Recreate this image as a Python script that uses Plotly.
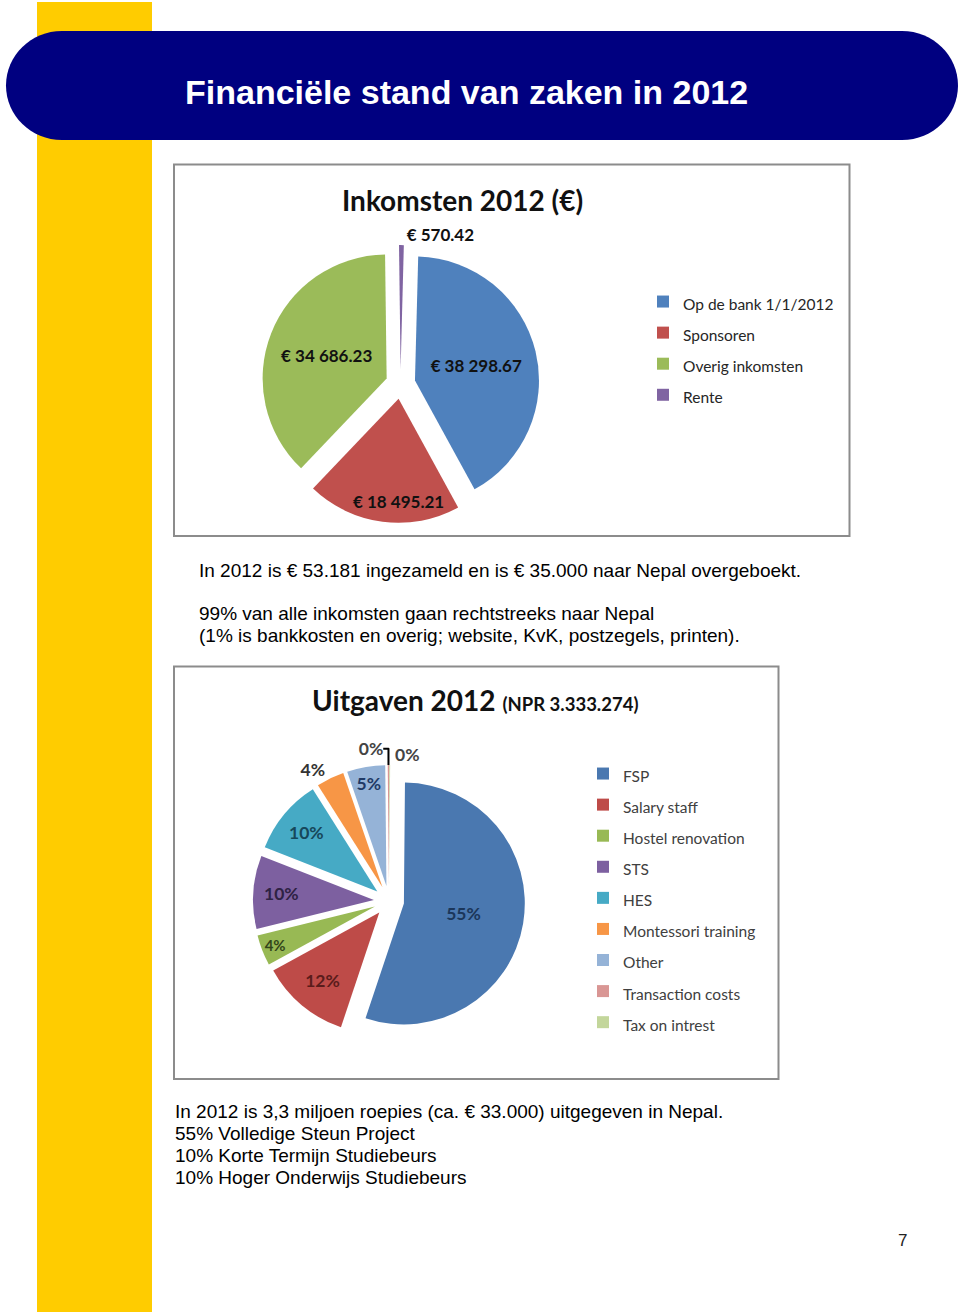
import plotly.graph_objects as go

W, H = 960, 1312
OX, OY = 0, 0   # body margin is removed in the page (see write_html below)

# ---------------- data ----------------
page_title = "Financiële stand van zaken in 2012"

inc_title = "Inkomsten 2012 (€)"
inc_labels = ["Op de bank 1/1/2012", "Sponsoren", "Overig inkomsten", "Rente"]
inc_values = [38298.67, 18495.21, 34686.23, 570.42]
inc_colors = ["#4F81BD", "#C0504D", "#9BBB59", "#8064A2"]

exp_title = "Uitgaven 2012"
exp_subtitle = "(NPR 3.333.274)"
exp_labels = ["FSP", "Salary staff", "Hostel renovation", "STS", "HES",
              "Montessori training", "Other", "Transaction costs", "Tax on intrest"]
exp_values = [55.0, 11.9, 4.1, 9.8, 10.1, 3.7, 5.1, 0.2, 0.1]   # percent of total
exp_colors = ["#4A78B0", "#BE4B48", "#98B954", "#7D60A0", "#46AAC5",
              "#F79646", "#95B3D7", "#D99694", "#C3D69B"]
exp_text_colors = ["#1B365A", "#5A1C1B", "#33461A", "#2E2244", "#16475A",
                   "#333333", "#1F3A66", "#444444", "#444444"]

text_mid = ["In 2012 is € 53.181 ingezameld en is € 35.000 naar Nepal overgeboekt.",
            "99% van alle inkomsten gaan rechtstreeks naar Nepal",
            "(1% is bankkosten en overig; website, KvK, postzegels, printen)."]
text_bottom = ["In 2012 is 3,3 miljoen roepies (ca. € 33.000) uitgegeven in Nepal.",
               "55% Volledige Steun Project",
               "10% Korte Termijn Studiebeurs",
               "10% Hoger Onderwijs Studiebeurs"]
page_number = "7"


def px(x):
    return (x - OX) / W


def py(y):
    return 1 - (y - OY) / H


def euro(v):
    return "€ " + f"{v:,.2f}".replace(",", " ")


def legend_label(s):
    return f'<span style="font-size:15.5px">{s}</span>'


fig = go.Figure()

# ---------------- pie 1: Inkomsten ----------------
fig.add_trace(go.Pie(
    labels=[legend_label(l) for l in inc_labels],
    values=inc_values,
    sort=False, direction="clockwise", rotation=1.5,
    pull=0.12,
    marker=dict(colors=inc_colors, line=dict(width=0)),
    text=[euro(v) for v in inc_values],
    textinfo="text",
    textposition=["inside", "inside", "inside", "outside"],
    insidetextorientation="horizontal",
    textfont=dict(family="Lato", size=17, color="#111111", weight="bold"),
    domain=dict(x=[px(261.6), px(539.4)], y=[py(522.9), py(245.1)]),
    legend="legend",
    hoverinfo="skip",
))

# ---------------- pie 2: Uitgaven ----------------
fig.add_trace(go.Pie(
    labels=[legend_label(l) for l in exp_labels],
    values=exp_values,
    sort=False, direction="clockwise", rotation=0.5,
    pull=0.125,
    marker=dict(colors=exp_colors, line=dict(width=0)),
    texttemplate="%{percent:.0%}",
    textposition=["inside", "inside", "inside", "inside", "inside",
                  "outside", "inside", "outside", "outside"],
    insidetextorientation="horizontal",
    textfont=dict(family="Lato", size=17.5, color=exp_text_colors, weight="bold"),
    domain=dict(x=[px(253), px(525)], y=[py(1037), py(765)]),
    legend="legend2",
    hoverinfo="skip",
))

# ---------------- shapes ----------------
shapes = []
# yellow strip
shapes.append(dict(type="rect", xref="paper", yref="paper",
                   x0=px(37), x1=px(152), y0=py(1312), y1=py(2),
                   fillcolor="#FFCC00", line=dict(width=0), layer="below"))


def pill_path(x0, y0, x1, y1, rx):
    ry = (y1 - y0) / 2
    k = 0.5523
    ym = (y0 + y1) / 2

    def P(x, y):
        return f"{px(x):.5f},{py(y):.5f}"
    d = f"M{P(x0 + rx, y0)} L{P(x1 - rx, y0)} "
    d += f"C{P(x1 - rx + k * rx, y0)} {P(x1, ym - k * ry)} {P(x1, ym)} "
    d += f"C{P(x1, ym + k * ry)} {P(x1 - rx + k * rx, y1)} {P(x1 - rx, y1)} "
    d += f"L{P(x0 + rx, y1)} "
    d += f"C{P(x0 + rx - k * rx, y1)} {P(x0, ym + k * ry)} {P(x0, ym)} "
    d += f"C{P(x0, ym - k * ry)} {P(x0 + rx - k * rx, y0)} {P(x0 + rx, y0)} Z"
    return d


shapes.append(dict(type="path", xref="paper", yref="paper",
                   path=pill_path(6, 31, 958, 140, 56),
                   fillcolor="#000080", line=dict(width=0), layer="below"))
# chart boxes
shapes.append(dict(type="rect", xref="paper", yref="paper",
                   x0=px(174), x1=px(849.5), y0=py(536), y1=py(164.5),
                   fillcolor="white", line=dict(color="#8C8C8C", width=2), layer="below"))
shapes.append(dict(type="rect", xref="paper", yref="paper",
                   x0=px(174), x1=px(778.5), y0=py(1079), y1=py(666.5),
                   fillcolor="white", line=dict(color="#8C8C8C", width=2), layer="below"))

# ---------------- annotations ----------------
ann = []
ann.append(dict(text=f"<b>{page_title}</b>", x=px(466), y=py(92), xref="paper", yref="paper",
                xanchor="center", yanchor="middle", showarrow=False,
                font=dict(family="Liberation Sans, Arial", size=34, color="white")))
ann.append(dict(text=f"<b>{inc_title}</b>", x=px(462), y=py(200), xref="paper", yref="paper",
                xanchor="center", yanchor="middle", showarrow=False,
                font=dict(family="Lato", size=28, color="#111111")))
ann.append(dict(text=f'<b>{exp_title} <span style="font-size:18.5px">{exp_subtitle}</span></b>',
                x=px(475), y=py(700), xref="paper", yref="paper",
                xanchor="center", yanchor="middle", showarrow=False,
                font=dict(family="Lato", size=28, color="#111111")))
for t, yy in zip(text_mid, [570, 613, 635]):
    ann.append(dict(text=t, x=px(197), y=py(yy), xref="paper", yref="paper",
                    xanchor="left", yanchor="middle", showarrow=False,
                    font=dict(family="Liberation Sans, Arial", size=19, color="black")))
for i, t in enumerate(text_bottom):
    ann.append(dict(text=t, x=px(173), y=py(1111 + 22 * i), xref="paper", yref="paper",
                    xanchor="left", yanchor="middle", showarrow=False,
                    font=dict(family="Liberation Sans, Arial", size=19, color="black")))
ann.append(dict(text=page_number, x=px(902), y=py(1240), xref="paper", yref="paper",
                xanchor="center", yanchor="middle", showarrow=False,
                font=dict(family="Liberation Sans, Arial", size=17, color="#222222")))

fig.update_layout(
    width=W, height=H,
    margin=dict(l=0, r=0, t=0, b=0),
    paper_bgcolor="white", plot_bgcolor="white",
    shapes=shapes, annotations=ann,
    showlegend=True,
    legend=dict(x=px(643), y=py(281), xanchor="left", yanchor="top",
                font=dict(family="Lato", size=21.6, color="#262626"),
                bgcolor="rgba(0,0,0,0)", borderwidth=0),
    legend2=dict(x=px(583), y=py(753), xanchor="left", yanchor="top",
                 font=dict(family="Lato", size=21.6, color="#404040"),
                 bgcolor="rgba(0,0,0,0)", borderwidth=0),
)

fig.write_html("out.html",
               config={"displayModeBar": False},
               post_script="document.body.style.margin='0';document.body.style.overflow='hidden';")
